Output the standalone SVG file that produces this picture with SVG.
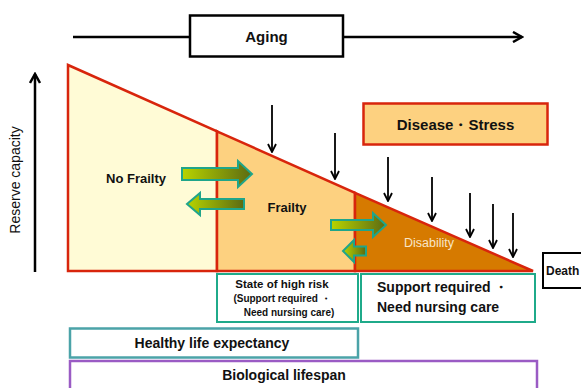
<svg xmlns="http://www.w3.org/2000/svg" width="581" height="388" viewBox="0 0 581 388">
<defs>
<linearGradient id="g" x1="0" y1="0" x2="1" y2="0">
<stop offset="0" stop-color="#B8D400"/>
<stop offset="1" stop-color="#5C6A12"/>
</linearGradient>
<marker id="ah" viewBox="0 0 10 10" refX="9" refY="5" markerWidth="10" markerHeight="10" markerUnits="userSpaceOnUse" orient="auto">
<path d="M1,1 L9,5 L1,9" fill="none" stroke="#000" stroke-width="1.8"/>
</marker>
<marker id="ah2" viewBox="0 0 12 12" refX="10" refY="6" markerWidth="12" markerHeight="12" markerUnits="userSpaceOnUse" orient="auto">
<path d="M1,1 L10,6 L1,11" fill="none" stroke="#000" stroke-width="2.5"/>
</marker>
</defs>
<style>
text{font-family:"Liberation Sans","Noto Sans",Arial,sans-serif;font-weight:bold;fill:#111}
text.n{font-weight:normal}
.red{stroke:#D8250C;stroke-width:2.5}
.ga{fill:url(#g);stroke:#1FA58A;stroke-width:2}
.dn{stroke:#000;stroke-width:1.8;fill:none;marker-end:url(#ah)}
.teal{fill:#fff;stroke:#1FAA8A;stroke-width:2}
</style>
<rect width="581" height="388" fill="#fff"/>

<g id="aging">
<line x1="73" y1="37" x2="522" y2="37" stroke="#000" stroke-width="2.5" marker-end="url(#ah2)"/>
<rect x="190" y="15.5" width="153" height="41" fill="#fff" stroke="#000" stroke-width="2.5"/>
<text x="266.5" y="42" font-size="15" text-anchor="middle">Aging</text>
</g>

<g id="reserve">
<line x1="35" y1="272" x2="35" y2="74" stroke="#000" stroke-width="2.5" marker-end="url(#ah2)"/>
<text class="n" transform="translate(20,180) rotate(-90)" font-size="14" text-anchor="middle">Reserve capacity</text>
</g>

<g id="no-frailty">
<polygon points="68,65 217,131.3 217,271 68,271" fill="#FFFBD6" class="red"/>
<text x="136" y="183" font-size="13" text-anchor="middle">No Frailty</text>
</g>
<g id="frailty">
<polygon points="217,131.3 355,192.8 355,271 217,271" fill="#FDD180" class="red"/>
<text x="287" y="212" font-size="13" text-anchor="middle">Frailty</text>
</g>
<g id="disability">
<polygon points="355,192.8 533,271 355,271" fill="#D67A00" class="red"/>
<text class="n" x="429" y="246.5" font-size="12.5" text-anchor="middle" style="fill:#F8E6C8">Disability</text>
</g>

<g id="transitions">
<path class="ga" d="M182,168 L238,168 L238,161 L252,174 L238,187 L238,180 L182,180 Z"/>
<path class="ga" d="M244,199 L200,199 L200,193 L187,204 L200,215 L200,209 L244,209 Z"/>
<path class="ga" d="M331,220 L373,220 L373,213 L386,225 L373,237 L373,230 L331,230 Z"/>
<path class="ga" d="M366,246.5 L354,246.5 L354,240 L343,251 L354,262 L354,255.5 L366,255.5 Z"/>
</g>

<g id="stressors">
<line class="dn" x1="272" y1="105" x2="272" y2="152"/>
<line class="dn" x1="335" y1="133" x2="335" y2="179"/>
<line class="dn" x1="388" y1="157" x2="388" y2="201"/>
<line class="dn" x1="432" y1="177" x2="432" y2="221"/>
<line class="dn" x1="470" y1="193" x2="470" y2="237"/>
<line class="dn" x1="493" y1="204" x2="493" y2="248"/>
<line class="dn" x1="513" y1="213" x2="513" y2="257"/>
</g>

<g id="disease-stress">
<rect x="363.5" y="103.5" width="184" height="41" fill="#FDD180" class="red"/>
<text x="455.5" y="129.5" font-size="15" text-anchor="middle">Disease・Stress</text>
</g>

<g id="death">
<rect x="543" y="253" width="40" height="35" fill="#fff" stroke="#000" stroke-width="2"/>
<text x="546" y="275" font-size="12">Death</text>
</g>

<g id="high-risk">
<rect class="teal" x="217" y="274" width="141" height="48"/>
<text x="282" y="288" font-size="11.5" text-anchor="middle">State of high risk</text>
<text x="282" y="302" font-size="10" text-anchor="middle">(Support required ・</text>
<text x="289" y="316" font-size="10" text-anchor="middle">Need nursing care)</text>
</g>

<g id="support">
<rect class="teal" x="361" y="274" width="174" height="48"/>
<text x="377" y="292" font-size="14">Support required ・</text>
<text x="377" y="312" font-size="14">Need nursing care</text>
</g>

<g id="healthy">
<rect x="70" y="328.5" width="288" height="29" fill="#fff" stroke="#4BA3A8" stroke-width="2.5"/>
<text x="212" y="347.5" font-size="14" text-anchor="middle">Healthy life expectancy</text>
</g>
<g id="biological">
<rect x="70" y="361" width="467" height="40" fill="#fff" stroke="#9A5BC4" stroke-width="2.5"/>
<text x="284" y="380" font-size="14" text-anchor="middle">Biological lifespan</text>
</g>
</svg>
